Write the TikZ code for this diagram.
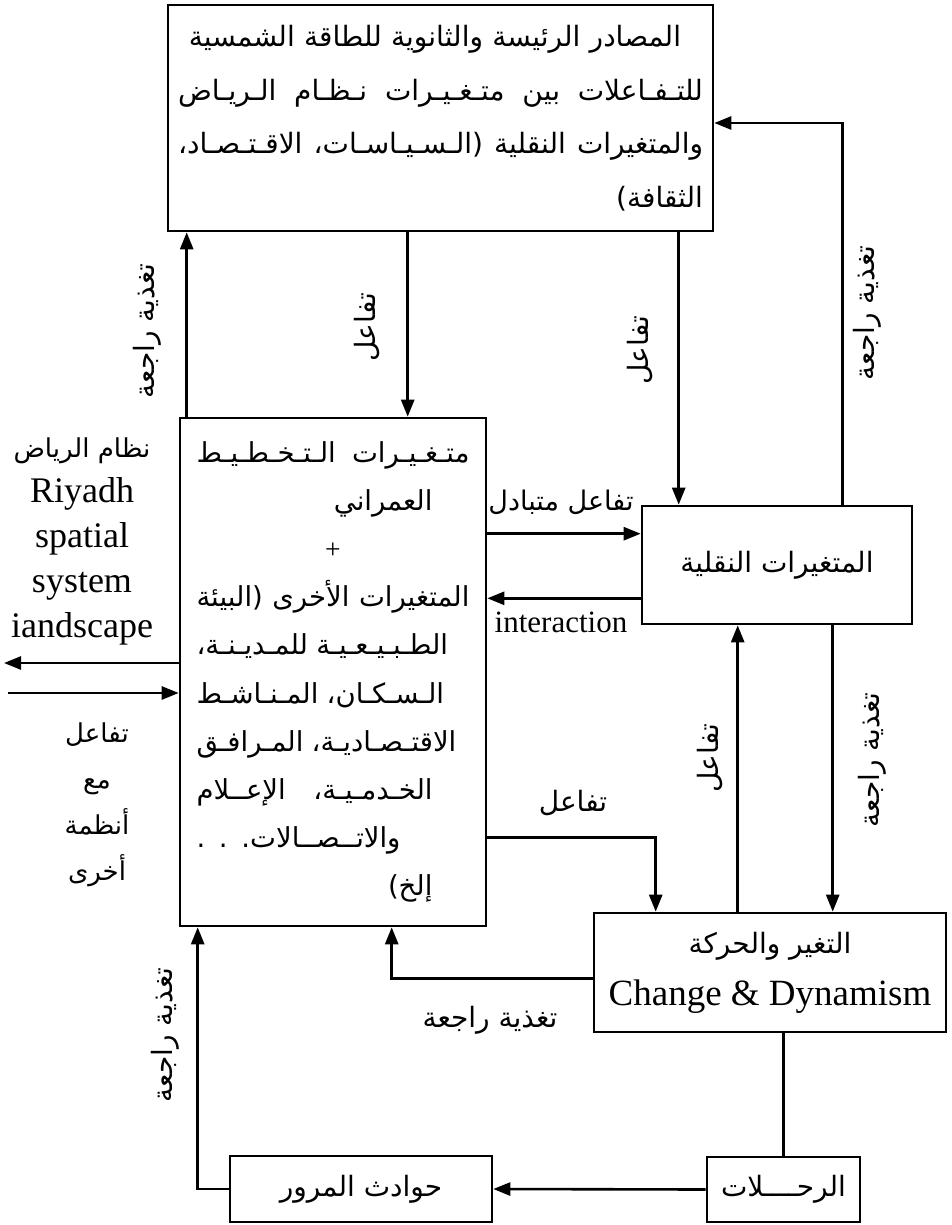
\documentclass[tikz,border=0pt]{standalone}
\usepackage{fontspec}
\setmainfont{Liberation Serif}
\newfontfamily\arabicfont[Script=Arabic]{DejaVu Sans}
\TeXXeTstate=1
\usetikzlibrary{arrows.meta}
\newcommand{\AR}[1]{{\arabicfont\beginR #1\endR}}
\newcommand{\fillto}[2]{\leavevmode\hbox to #1{\spaceskip=.3em plus 1fil\relax #2}}
\tikzset{
  box/.style={
    draw,
    line width=2.6pt,
    inner sep=0pt,
    align=center,
    font=\fontsize{28}{30}\selectfont
  },
  arrow/.style={line width=2.6pt, -{Triangle[length=17pt,width=13pt]}},
  link/.style={line width=2.6pt},
  lbl/.style={inner sep=0pt, font=\fontsize{28}{30}\selectfont},
  vlbl/.style={lbl, rotate=90},
  side/.style={align=center, inner sep=0pt}
}

\begin{document}
\begin{tikzpicture}[x=1pt,y=-1pt]
  \useasboundingbox (0,0) rectangle (952,1225);
  % boxes
  \node[box, minimum width=545pt, minimum height=226pt, text width=525pt,
    align=right, font=\fontsize{28}{53.5}\selectfont] (sources) at (440.5,118)
    {\AR{المصادر الرئيسة والثانوية للطاقة الشمسية}\hspace*{22pt}\mbox{}\\
     \fillto{525pt}{\AR{للتـفـاعلات بين متـغـيـرات نـظـام الـريـاض}}\\
     \fillto{525pt}{\AR{والمتغيرات النقلية (الـسـيـاسـات، الاقـتـصـاد،}}\\
     \AR{الثقافة)}};
  \node[box, minimum width=306pt, minimum height=508pt, text width=273pt,
    align=right, font=\fontsize{27.5}{48.2}\selectfont] (planning) at (333,672)
    {\fillto{273pt}{\AR{متـغـيـرات الـتـخـطـيـط}}\\
     \AR{العمراني}\hspace*{37pt}\mbox{}\\
     \makebox[273pt]{+}\\
     \fillto{273pt}{\AR{المتغيرات الأخرى (البيئة}}\\
     \fillto{236pt}{\AR{الطـبـيـعـيـة للمـديـنـة،}}\hspace*{37pt}\mbox{}\\
     \fillto{236pt}{\AR{الـسـكـان، المـنـاشـط}}\hspace*{37pt}\mbox{}\\
     \fillto{236pt}{\AR{الاقتـصـاديـة، المـرافـق}}\hspace*{37pt}\mbox{}\\
     \fillto{236pt}{\AR{الخـدمـيـة، الإعــلام}}\hspace*{37pt}\mbox{}\\
     \fillto{236pt}{\AR{والاتــصــالات. . .}}\hspace*{37pt}\mbox{}\\
     \AR{إلخ)}\hspace*{37pt}\mbox{}};
  \node[box, minimum width=270pt, minimum height=118pt] (transport) at (777,565)
    {\AR{المتغيرات النقلية}};
  \node[box, minimum width=352pt, minimum height=119pt,
    font=\fontsize{28}{52}\selectfont] (change) at (770,972.5)
    {\AR{التغير والحركة}\\ {\fontsize{37}{40}\selectfont Change \& Dynamism}};
  \node[box, minimum width=262pt, minimum height=66pt] (accidents) at (361,1189)
    {\AR{حوادث المرور}};
  \node[box, minimum width=153pt, minimum height=65pt] (trips) at (783.5,1189.5)
    {\AR{الرحــــلات}};
  % side texts
  \node[side, font=\fontsize{36}{45}\selectfont] (riyadh) at (82,541)
    {{\fontsize{26}{30}\selectfont\AR{نظام الرياض}}\\ Riyadh\\ spatial\\ system\\ iandscape};
  \node[side, font=\fontsize{26}{46}\selectfont] (others) at (97,805)
    {\AR{تفاعل}\\ \AR{مع}\\ \AR{أنظمة}\\ \AR{أخرى}};
  \coordinate (outleft) at (4,663);
  \coordinate (inleft) at (8,693);
  % connectors
  \draw[arrow] ([xshift=8pt]planning.north west) -- ([xshift=8pt]planning.north west |- sources.south);
  \draw[arrow] ([xshift=241pt]sources.south west) -- ([xshift=241pt]sources.south west |- planning.north);
  \draw[arrow] ([xshift=38pt]transport.north west |- sources.south) -- ([xshift=38pt]transport.north west);
  \draw[arrow] ([xshift=202pt]transport.north west) |- ([yshift=-5pt]sources.east);
  \draw[arrow] ([yshift=-29pt]transport.north west -| planning.east) -- ([yshift=-29pt]transport.north west);
  \draw[arrow] ([yshift=27pt]transport.south west) -- ([yshift=27pt]transport.south west -| planning.east);
  \draw[arrow] ([yshift=90pt]planning.south east) -| ([xshift=63pt]change.north west);
  \draw[arrow] ([xshift=145pt]change.north west) -- ([xshift=145pt]change.north west |- transport.south);
  \draw[arrow] ([xshift=192pt]transport.south west) -- ([xshift=192pt]transport.south west |- change.north);
  \draw[arrow] ([yshift=-6pt]change.west) -| ([xshift=213pt]planning.south west);
  \draw[link] (trips.north) -- (trips.north |- change.south);
  \draw[arrow] (trips.west) -- (accidents.east);
  \draw[arrow] (accidents.west) -| ([xshift=19pt]planning.south west);
  \draw[arrow] ([yshift=9pt]planning.west) -- (outleft);
  \draw[arrow] (inleft) -- (inleft -| planning.west);
  % labels
  \node[vlbl] (fb1) at (147,331) {\AR{تغذية راجعة}};
  \node[vlbl] (fb2) at (867,313) {\AR{تغذية راجعة}};
  \node[vlbl] (fb3) at (872,760) {\AR{تغذية راجعة}};
  \node[vlbl] (fb4) at (165,1035) {\AR{تغذية راجعة}};
  \node[lbl] (fb5) at (490,1020) {\AR{تغذية راجعة}};
  \node[vlbl] (int1) at (367,327) {\AR{تفاعل}};
  \node[vlbl] (int2) at (640,350) {\AR{تفاعل}};
  \node[vlbl] (int3) at (710,758) {\AR{تفاعل}};
  \node[lbl] (int4) at (573,803) {\AR{تفاعل}};
  \node[lbl, font=\fontsize{27}{30}\selectfont] (mutual) at (561,502) {\AR{تفاعل متبادل}};
  \node[lbl, font=\fontsize{31}{35}\selectfont] (interaction) at (561,622) {interaction};
\end{tikzpicture}
\end{document}
